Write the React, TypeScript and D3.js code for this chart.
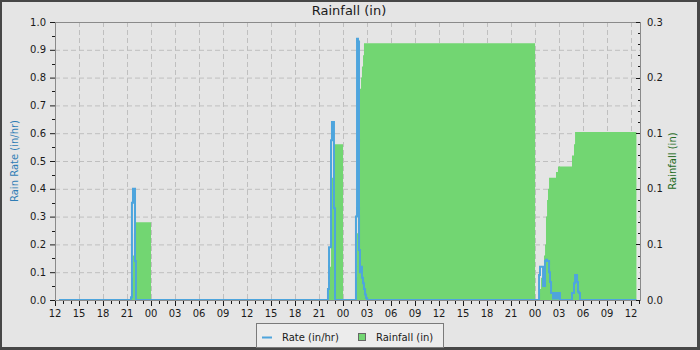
import React from "react";
import * as d3 from "d3";

const W = 700;
const H = 350;

const xDomain = ["2024-05-10 12:00", "2024-05-13 13:07"];
const xMajorStart = "2024-05-10 12:00";
const xMajorEnd = "2024-05-13 12:00";

// Rain rate (in/hr), step series
const rateSeries: [string, number][] = [
  ["2024-05-10 12:30", 0],
  ["2024-05-10 21:30", 0.01],
  ["2024-05-10 21:37", 0.35],
  ["2024-05-10 21:45", 0.4],
  ["2024-05-10 22:00", 0.14],
  ["2024-05-10 22:07", 0],
  ["2024-05-11 22:07", 0.04],
  ["2024-05-11 22:15", 0.19],
  ["2024-05-11 22:30", 0.575],
  ["2024-05-11 22:37", 0.64],
  ["2024-05-11 22:52", 0.33],
  ["2024-05-11 23:00", 0],
  ["2024-05-12 01:37", 0.3],
  ["2024-05-12 01:45", 0.94],
  ["2024-05-12 01:52", 0.93],
  ["2024-05-12 02:00", 0.18],
  ["2024-05-12 02:07", 0.1],
  ["2024-05-12 02:15", 0.12],
  ["2024-05-12 02:22", 0.08],
  ["2024-05-12 02:30", 0.06],
  ["2024-05-12 02:37", 0.04],
  ["2024-05-12 02:45", 0.02],
  ["2024-05-12 02:52", 0.007],
  ["2024-05-12 03:00", 0],
  ["2024-05-13 00:30", 0.09],
  ["2024-05-13 00:37", 0.12],
  ["2024-05-13 01:00", 0.05],
  ["2024-05-13 01:15", 0.14],
  ["2024-05-13 01:22", 0.145],
  ["2024-05-13 01:30", 0.14],
  ["2024-05-13 01:45", 0.1],
  ["2024-05-13 01:52", 0.065],
  ["2024-05-13 02:00", 0.025],
  ["2024-05-13 02:15", 0.005],
  ["2024-05-13 02:30", 0.025],
  ["2024-05-13 02:45", 0.005],
  ["2024-05-13 02:52", 0.025],
  ["2024-05-13 03:07", 0],
  ["2024-05-13 04:37", 0.025],
  ["2024-05-13 04:52", 0.06],
  ["2024-05-13 05:00", 0.09],
  ["2024-05-13 05:15", 0.065],
  ["2024-05-13 05:22", 0.03],
  ["2024-05-13 05:30", 0.025],
  ["2024-05-13 05:37", 0],
  ["2024-05-13 12:40", 0],
];

// Cumulative daily rainfall (in), step series
const rainSeries: [string, number][] = [
  ["2024-05-10 12:30", 0],
  ["2024-05-10 21:37", 0.02],
  ["2024-05-10 21:45", 0.04],
  ["2024-05-10 21:52", 0.06],
  ["2024-05-10 22:00", 0.07],
  ["2024-05-11 00:00", 0],
  ["2024-05-11 22:15", 0.01],
  ["2024-05-11 22:22", 0.03],
  ["2024-05-11 22:30", 0.07],
  ["2024-05-11 22:37", 0.11],
  ["2024-05-11 22:45", 0.13],
  ["2024-05-11 22:52", 0.14],
  ["2024-05-12 00:00", 0],
  ["2024-05-12 01:37", 0.02],
  ["2024-05-12 01:45", 0.06],
  ["2024-05-12 01:52", 0.13],
  ["2024-05-12 02:00", 0.17],
  ["2024-05-12 02:07", 0.19],
  ["2024-05-12 02:15", 0.2],
  ["2024-05-12 02:22", 0.21],
  ["2024-05-12 02:30", 0.22],
  ["2024-05-12 02:37", 0.231],
  ["2024-05-13 00:00", 0],
  ["2024-05-13 00:30", 0.01],
  ["2024-05-13 00:45", 0.02],
  ["2024-05-13 01:00", 0.03],
  ["2024-05-13 01:07", 0.04],
  ["2024-05-13 01:15", 0.05],
  ["2024-05-13 01:22", 0.075],
  ["2024-05-13 01:30", 0.09],
  ["2024-05-13 01:37", 0.1],
  ["2024-05-13 01:45", 0.11],
  ["2024-05-13 02:37", 0.115],
  ["2024-05-13 02:52", 0.12],
  ["2024-05-13 04:37", 0.13],
  ["2024-05-13 04:52", 0.14],
  ["2024-05-13 05:00", 0.151],
  ["2024-05-13 12:40", 0.151],
];

const leftTicks = [0, 0.1, 0.2, 0.3, 0.4, 0.5, 0.6, 0.7, 0.8, 0.9, 1.0];
const leftTickLabels = ["0.0", "0.1", "0.2", "0.3", "0.4", "0.5", "0.6", "0.7", "0.8", "0.9", "1.0"];
const rightTicks = [0, 0.05, 0.1, 0.15, 0.2, 0.25];
const rightTickLabels = ["0.0", "0.1", "0.1", "0.1", "0.2", "0.3"];

const FONT = "DejaVu Sans";

export default function App() {
  const parse = d3.timeParse("%Y-%m-%d %H:%M");
  const L = 55, R = 640, T = 22, B = 300;
  const x = d3.scaleTime().domain(xDomain.map((s) => parse(s) as Date)).range([L, R]);
  const yL = d3.scaleLinear().domain([0, 1]).range([B, T]);
  const yR = d3.scaleLinear().domain([0, 0.25]).range([B, T]);

  const rate = rateSeries.map(([t, v]) => ({ t: parse(t) as Date, v }));
  const rain = rainSeries.map(([t, v]) => ({ t: parse(t) as Date, v }));

  const majorX = d3.timeHour.every(3)!.range(parse(xMajorStart) as Date, d3.timeMinute.offset(parse(xMajorEnd) as Date, 1));
  const minorX = d3.timeHour.every(1)!.range(x.domain()[0], x.domain()[1]);
  const fmt = d3.timeFormat("%H");

  const area = d3
    .area<{ t: Date; v: number }>()
    .x((d) => x(d.t))
    .y0(yR(0))
    .y1((d) => yR(d.v))
    .curve(d3.curveStepAfter);
  const line = d3
    .line<{ t: Date; v: number }>()
    .x((d) => x(d.t))
    .y((d) => yL(d.v))
    .curve(d3.curveStepAfter);

  const leftMinor = d3.range(0.05, 1, 0.1);
  const rightMinor = d3.range(0, 0.2501, 0.01);

  const grid = "#bfbfbf";
  const axisCol = "#8a8a8a";
  const tickCol = "#1a1a1a";
  const textCol = "#1a1a1a";

  return (
    <svg
      width={W}
      height={H}
      style={{ position: "absolute", left: 0, top: 0, display: "block" }}
      fontFamily={FONT}
    >
      <rect x={0} y={0} width={W} height={H} fill="#474747" />
      <rect x={2} y={2} width={695} height={345} fill="#e5e5e5" />

      {/* grid */}
      {leftTicks.slice(1).map((v, i) => (
        <line key={"gh" + i} x1={L} x2={R} y1={yL(v) + 0.5} y2={yL(v) + 0.5} stroke={grid} strokeDasharray="5,3" />
      ))}
      {majorX.slice(1).map((d, i) => (
        <line key={"gv" + i} x1={Math.round(x(d)) + 0.5} x2={Math.round(x(d)) + 0.5} y1={T} y2={B} stroke={grid} strokeDasharray="5,3" />
      ))}

      {/* rainfall area */}
      <path d={area(rain) || ""} fill="#72d672" />
      {/* rate line */}
      <path d={line(rate) || ""} fill="none" stroke="#4ea5dd" strokeWidth={2} />

      {/* frame / axes */}
      <line x1={L} x2={R} y1={T + 0.5} y2={T + 0.5} stroke={axisCol} />
      <line x1={L} x2={R} y1={B + 0.5} y2={B + 0.5} stroke={axisCol} />
      <line x1={L + 0.5} x2={L + 0.5} y1={T} y2={B + 1} stroke={axisCol} />
      <line x1={R + 0.5} x2={R + 0.5} y1={T} y2={B + 1} stroke={axisCol} />

      {/* left axis ticks */}
      {leftTicks.map((v, i) => (
        <g key={"lt" + i}>
          <line x1={L - 5} x2={L} y1={yL(v) + 0.5} y2={yL(v) + 0.5} stroke={tickCol} />
          <text x={L - 9} y={yL(v)} dy="0.35em" textAnchor="end" fontSize={10} fill={textCol}>
            {leftTickLabels[i]}
          </text>
        </g>
      ))}
      {leftMinor.map((v, i) => (
        <line key={"lm" + i} x1={L - 3} x2={L} y1={Math.round(yL(v)) + 0.5} y2={Math.round(yL(v)) + 0.5} stroke={tickCol} />
      ))}

      {/* right axis ticks */}
      {rightMinor.map((v, i) => (
        <line key={"rm" + i} x1={R - 2} x2={R} y1={Math.round(yR(v)) + 0.5} y2={Math.round(yR(v)) + 0.5} stroke={tickCol} />
      ))}
      {rightTicks.map((v, i) => (
        <g key={"rt" + i}>
          <line x1={R - 4} x2={R} y1={Math.round(yR(v)) + 0.5} y2={Math.round(yR(v)) + 0.5} stroke={tickCol} />
          <text x={R + 7} y={yR(v)} dy="0.35em" textAnchor="start" fontSize={10} fill={textCol}>
            {rightTickLabels[i]}
          </text>
        </g>
      ))}

      {/* bottom axis ticks */}
      {minorX.map((d, i) => (
        <line key={"bm" + i} x1={Math.round(x(d)) + 0.5} x2={Math.round(x(d)) + 0.5} y1={B + 1} y2={B + 4} stroke={tickCol} />
      ))}
      {majorX.map((d, i) => (
        <g key={"bt" + i}>
          <line x1={Math.round(x(d)) + 0.5} x2={Math.round(x(d)) + 0.5} y1={B + 1} y2={B + 6} stroke={tickCol} />
          <text x={x(d)} y={316.5} textAnchor="middle" fontSize={10} fill={textCol}>
            {fmt(d)}
          </text>
        </g>
      ))}

      {/* title */}
      <text x={349} y={15} textAnchor="middle" fontSize={13} fill={textCol}>
        Rainfall (in)
      </text>

      {/* axis labels */}
      <text transform={`translate(14,${(T + B) / 2}) rotate(-90)`} dy="0.35em" textAnchor="middle" fontSize={10} fill="#2f7db5">
        Rain Rate (in/hr)
      </text>
      <text transform={`translate(672,${(T + B) / 2}) rotate(-90)`} dy="0.35em" textAnchor="middle" fontSize={10} fill="#236b23">
        Rainfall (in)
      </text>

      {/* legend */}
      <rect x={256.5} y={323.5} width={187} height={24} fill="#ececec" stroke="#7a7a7a" />
      <line x1={262} x2={272} y1={337.5} y2={337.5} stroke="#4ea5dd" strokeWidth={2} />
      <text x={282} y={340.5} fontSize={10} fill={textCol}>
        Rate (in/hr)
      </text>
      <rect x={358.5} y={333.5} width={7} height={7} fill="#72d672" stroke="#666" />
      <text x={376} y={340.5} fontSize={10} fill={textCol}>
        Rainfall (in)
      </text>
    </svg>
  );
}
